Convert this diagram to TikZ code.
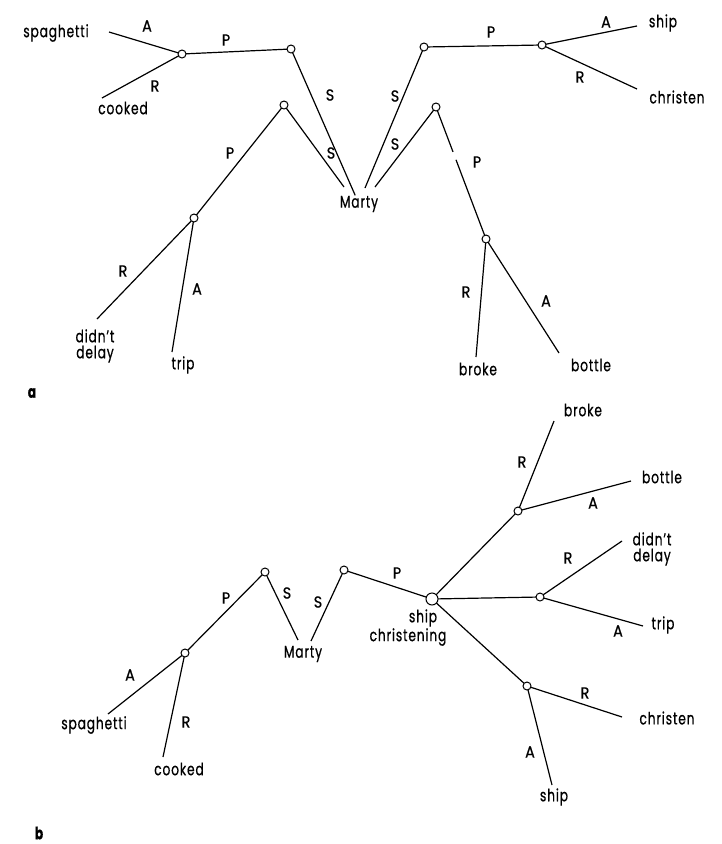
\documentclass[tikz,border=0pt]{standalone}
\usepackage{fontspec}
\setmainfont[LetterSpace=5,FakeStretch=0.72,FakeBold=0.6]{Poppins}
\newfontfamily\labfont[FakeStretch=0.9,FakeBold=0.6]{Poppins}
\usetikzlibrary{calc}
\begin{document}
\begin{tikzpicture}[x=1pt,y=-1pt,
  line width=1.2pt,
  dot/.style={circle,draw,fill=white,inner sep=0pt,minimum size=8pt,line width=1pt},
  bigdot/.style={circle,draw,fill=white,inner sep=0pt,minimum size=12pt,line width=1pt},
  word/.style={inner sep=0pt,font=\fontsize{17}{17}\selectfont,align=center},
  lab/.style={inner sep=0pt,font=\labfont\fontsize{16}{17}\selectfont},
  panel/.style={inner sep=0pt,font=\fontsize{17}{17}\selectfont\bfseries}]
\useasboundingbox (0,0) rectangle (721,844);
% ---------------- part a ----------------
\coordinate (n1) at (182,54);
\coordinate (n2) at (291,49);
\coordinate (n3) at (284,105);
\coordinate (n4) at (194,218);
\coordinate (n5) at (424,47);
\coordinate (n6) at (436,107);
\coordinate (n7) at (542,45);
\coordinate (n8) at (486,239);
% free ends
\coordinate (spE) at (109,32);
\coordinate (coE) at (102,98);
\coordinate (ddE) at (97,319);
\coordinate (trE) at (172,352);
\coordinate (shE) at (637,26);
\coordinate (chE) at (637,89);
\coordinate (brE) at (476,357);
\coordinate (boE) at (559,353);
\coordinate (maA) at (363,189);
\coordinate (maB) at (365,188);
\coordinate (maC) at (344,187);
\coordinate (maD) at (375,187);
% words
\node[word] (spaA) at (56,33) {spaghetti};
\node[word] (cooA) at (123,108) {cooked};
\node[word] (ddA) at (95,346) {didn't\\[-1pt]delay};
\node[word] (trA) at (183,365) {trip};
\node[word] (shA) at (663,23) {ship};
\node[word] (chA) at (677,97) {christen};
\node[word] (brA) at (478,369) {broke};
\node[word] (boA) at (591,365) {bottle};
\node[word] (maA) at (359,204) {Marty};
% connectors
\draw (spE) -- (n1);
\draw (coE) -- (n1);
\draw (n1) -- (n2);
\draw (n2) -- (maA);
\draw (n3) -- (maC);
\draw (n3) -- (n4);
\draw (n4) -- (ddE);
\draw (n4) -- (trE);
\draw (maB) -- (n5);
\draw (maD) -- (n6);
\draw (n5) -- (n7);
\draw (n7) -- (shE);
\draw (n7) -- (chE);
\draw (n6) -- ($(n6)!0.34!(n8)$) ($(n6)!0.40!(n8)$) -- (n8);
\draw (n8) -- (brE);
\draw (n8) -- (boE);
% dots
\foreach \p in {n1,n2,n3,n4,n5,n6,n7,n8} \node[dot] (d\p) at (\p) {};
% labels
\node[lab] (la1) at (147,26) {A};
\node[lab] (la2) at (155,86) {R};
\node[lab] (la3) at (226,40) {P};
\node[lab] (la4) at (330,95) {S};
\node[lab] (la5) at (331,153) {S};
\node[lab] (la6) at (230,153) {P};
\node[lab] (la7) at (123,271) {R};
\node[lab] (la8) at (197,289) {A};
\node[lab] (la9) at (395,96) {S};
\node[lab] (la10) at (395,144) {S};
\node[lab] (la11) at (491,32) {P};
\node[lab] (la12) at (606,22) {A};
\node[lab] (la13) at (580,77) {R};
\node[lab] (la14) at (477,162) {P};
\node[lab] (la15) at (466,292) {R};
\node[lab] (la16) at (546,301) {A};
\node[panel] (pa) at (32,393) {a};
% ---------------- part b ----------------
\coordinate (m1) at (265,572);
\coordinate (m2) at (185,653);
\coordinate (m3) at (344,570);
\coordinate (mc) at (432,599);
\coordinate (m4) at (518,511);
\coordinate (m5) at (540,597);
\coordinate (m6) at (527,686);
\coordinate (bspE) at (108,714);
\coordinate (bcoE) at (163,757);
\coordinate (bmaA) at (298,640);
\coordinate (bmaB) at (311,641);
\coordinate (bbrE) at (554,421);
\coordinate (bboE) at (631,481);
\coordinate (bddE) at (622,541);
\coordinate (btrE) at (643,626);
\coordinate (bchE) at (622,717);
\coordinate (bshE) at (552,785);
\node[word] (spaB) at (94,725) {spaghetti};
\node[word] (cooB) at (179,769) {cooked};
\node[word] (maB) at (303,654) {Marty};
\node[word] (shcB) at (423,618) {ship};
\node[word] (shcB2) at (408,637) {christening};
\node[word] (brB) at (583,410) {broke};
\node[word] (boB) at (662,477) {bottle};
\node[word] (ddB) at (652,549) {didn't\\[-1pt]delay};
\node[word] (trB) at (663,625) {trip};
\node[word] (chB) at (667,718) {christen};
\node[word] (shB) at (554,797) {ship};
\draw (bspE) -- (m2);
\draw (bcoE) -- (m2);
\draw (m2) -- (m1);
\draw (m1) -- (bmaA);
\draw (bmaB) -- (m3);
\draw (m3) -- (mc);
\draw (mc) -- (m4);
\draw (mc) -- (m5);
\draw (mc) -- (m6);
\draw (m4) -- (bbrE);
\draw (m4) -- (bboE);
\draw (m5) -- (bddE);
\draw (m5) -- (btrE);
\draw (m6) -- (bchE);
\draw (m6) -- (bshE);
\foreach \p in {m1,m2,m3,m4,m5,m6} \node[dot] (d\p) at (\p) {};
\node[bigdot] (dmc) at (mc) {};
\node[lab] (lb1) at (130,675) {A};
\node[lab] (lb2) at (186,722) {R};
\node[lab] (lb3) at (226,598) {P};
\node[lab] (lb4) at (287,593) {S};
\node[lab] (lb5) at (318,602) {S};
\node[lab] (lb6) at (397,573) {P};
\node[lab] (lb7) at (522,462) {R};
\node[lab] (lb8) at (593,503) {A};
\node[lab] (lb9) at (568,558) {R};
\node[lab] (lb10) at (618,631) {A};
\node[lab] (lb11) at (585,693) {R};
\node[lab] (lb12) at (530,752) {A};
\node[panel] (pb) at (39,833) {b};
\end{tikzpicture}
\end{document}
